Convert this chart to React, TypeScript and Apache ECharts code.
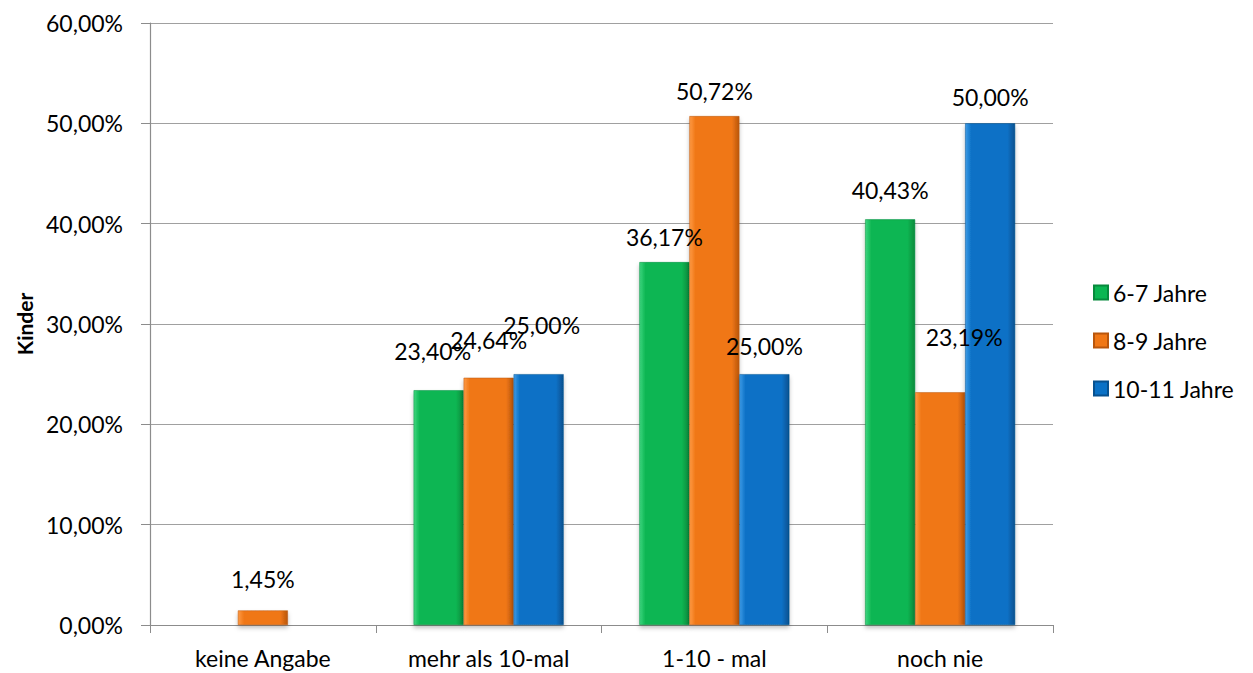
import React, { useEffect, useRef } from "react";
import * as echarts from "echarts";

const categories = ["keine Angabe", "mehr als 10-mal", "1-10 - mal", "noch nie"];
const seriesNames = ["6-7 Jahre", "8-9 Jahre", "10-11 Jahre"];
const green = [null, 23.4, 36.17, 40.43];
const orange = [1.45, 24.64, 50.72, 23.19];
const blue = [null, 25.0, 25.0, 50.0];
const yTicks = [0, 10, 20, 30, 40, 50, 60];

// label nudges (style only), [dx, dy] per point
const greenShift = [[0, 0], [-6, -13], [0, 1], [0, -3]];
const orangeShift = [[0, -5], [0, -11], [0, 1], [24, -29]];
const blueShift = [[0, 0], [3, -23], [0, -2], [0, 0]];

const baseColors = ["#0bb652", "#f07716", "#0a71c6"];
const lightColors = ["#3fd67f", "#ff9a44", "#3f9be6"];
const darkColors = ["#078a3c", "#b9560c", "#07518f"];

const fmt = (v: number) => v.toFixed(2).replace(".", ",") + "%";
const FONT = "Lato, 'Open Sans', sans-serif";
const FS = 23;

export default function App() {
  const ref = useRef<HTMLDivElement>(null);
  useEffect(() => {
    if (!ref.current) return;
    const chart = echarts.init(ref.current, null, { renderer: "svg" });
    const all = [green, orange, blue];
    const shifts = [greenShift, orangeShift, blueShift];
    const series = all.map((vals, si) => ({
      name: seriesNames[si],
      type: "bar",
      barWidth: 50,
      barGap: "0%",
      itemStyle: {
        color: new echarts.graphic.LinearGradient(0, 0, 1, 0, [
          { offset: 0, color: lightColors[si] },
          { offset: 0.12, color: baseColors[si] },
          { offset: 0.85, color: baseColors[si] },
          { offset: 1, color: darkColors[si] },
        ]),
        borderColor: darkColors[si],
        borderWidth: 0.5,
        shadowColor: "rgba(0,0,0,0.25)",
        shadowBlur: 4,
        shadowOffsetY: 3,
      },
      data: vals.map((v, i) => ({
        value: v,
        label: {
          show: v !== null,
          position: "top",
          distance: 15,
          offset: shifts[si][i],
          formatter: (p: any) => fmt(p.value),
          fontSize: FS,
          color: "#000",
          fontFamily: FONT,
        },
      })),
    }));
    chart.setOption({
      animation: false,
      textStyle: { fontFamily: FONT },
      grid: { left: 150, right: 200, top: 23, bottom: 48, containLabel: false },
      legend: {
        orient: "vertical",
        left: 1088,
        top: 276,
        itemWidth: 14,
        itemHeight: 14,
        itemGap: 25,
        icon: "rect",
        textStyle: { fontSize: FS, color: "#000", fontFamily: FONT },
        data: seriesNames.map((n, i) => ({ name: n, itemStyle: { color: baseColors[i] } })),
      },
      xAxis: {
        type: "category",
        data: categories,
        axisLine: { lineStyle: { color: "#8c8c8c", width: 1.2 } },
        axisTick: { show: true, length: 8, lineStyle: { color: "#8c8c8c" } },
        axisLabel: { fontSize: FS, color: "#000", margin: 21, fontFamily: FONT },
      },
      yAxis: {
        type: "value",
        min: yTicks[0],
        max: yTicks[yTicks.length - 1],
        interval: 10,
        name: "Kinder",
        nameLocation: "middle",
        nameGap: 111,
        nameTextStyle: { fontSize: 21, fontWeight: "bold", color: "#000", fontFamily: FONT },
        axisLine: { show: true, lineStyle: { color: "#8c8c8c", width: 1.2 } },
        axisTick: { show: true, length: 9, lineStyle: { color: "#8c8c8c" } },
        axisLabel: { fontSize: FS, color: "#000", margin: 27, formatter: (v: number) => fmt(v), fontFamily: FONT },
        splitLine: { lineStyle: { color: "#a0a0a0", width: 1.2 } },
      },
      series,
    });
    return () => chart.dispose();
  }, []);
  return (
    <div
      ref={ref}
      style={{ position: "fixed", left: 0, top: 0, width: 1253, height: 673, background: "#fff" }}
    />
  );
}
